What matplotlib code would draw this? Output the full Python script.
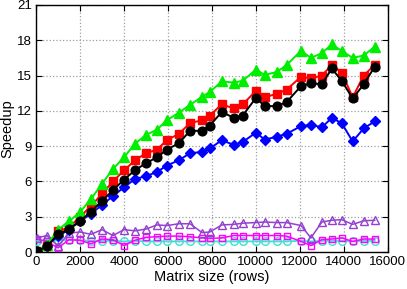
import matplotlib
matplotlib.use("Agg")
import matplotlib.pyplot as plt

sizes = [50, 500, 1000, 1500, 2000, 2500, 3000, 3500, 4000, 4500, 5000, 5500, 5950,
         6500, 7000, 7550, 7900, 8450, 9000, 9400, 10000, 10400, 10950, 11400,
         12050, 12500, 13000, 13450, 13900, 14400, 14900, 15400]

green = [0.1, 0.6, 1.9, 2.6, 3.4, 4.5, 5.8, 7.05, 8.05, 9.2, 9.95, 10.4, 11.2,
         11.85, 12.5, 13.2, 13.6, 14.5, 14.4, 14.55, 15.5, 15.05, 15.3, 15.9,
         17.1, 16.5, 16.9, 17.65, 17.1, 16.5, 16.7, 17.45]
red = [0.1, 0.55, 1.75, 2.1, 3.0, 3.9, 4.95, 6.0, 6.93, 7.8, 8.4, 8.7, 9.5,
       10.05, 10.95, 11.2, 11.6, 12.55, 12.2, 12.55, 13.7, 13.15, 13.45, 13.8,
       14.9, 14.75, 15.0, 15.9, 15.25, 13.15, 15.0, 15.9]
black = [0.05, 0.5, 1.5, 1.95, 2.65, 3.4, 4.35, 5.25, 6.15, 6.95, 7.55, 8.05, 8.7,
         9.25, 10.3, 10.3, 10.75, 11.9, 11.4, 11.6, 13.1, 12.4, 12.4, 12.75,
         14.1, 14.35, 14.25, 15.6, 14.55, 13.05, 14.25, 15.75]
blue = [0.05, 0.55, 1.35, 1.9, 2.6, 3.25, 4.0, 4.75, 5.5, 6.2, 6.45, 6.8, 7.35,
        7.8, 8.4, 8.5, 8.8, 9.5, 9.1, 9.35, 10.15, 9.55, 9.8, 10.05,
        10.7, 10.8, 10.6, 11.4, 10.95, 9.4, 10.5, 11.1]
purple = [1.2, 1.4, 0.5, 1.6, 1.7, 1.5, 1.9, 1.4, 1.9, 1.8, 1.95, 2.3, 2.25,
          2.4, 2.4, 1.65, 1.7, 2.3, 2.35, 2.45, 2.5, 2.55, 2.5, 2.5,
          2.25, 1.2, 2.55, 2.7, 2.75, 2.35, 2.65, 2.7]
magenta = [1.1, 0.9, 0.35, 1.05, 1.0, 0.7, 1.1, 1.05, 0.55, 1.0, 1.25, 1.3, 1.35,
           1.35, 1.3, 1.2, 1.15, 1.2, 1.4, 1.4, 1.4, 1.4, 1.4, 1.35,
           0.9, 0.55, 1.05, 1.1, 1.2, 0.9, 1.1, 1.1]
cyan = [0.95, 1.0, 1.0, 1.0, 1.0, 0.95, 0.95, 0.95, 0.9, 0.95, 0.9, 0.9, 0.9,
        0.9, 0.9, 0.9, 0.9, 0.9, 0.9, 0.9, 0.9, 0.9, 0.9, 0.9,
        0.95, 0.9, 0.95, 0.95, 0.95, 0.9, 0.95, 0.95]

xticks = [0, 2000, 4000, 6000, 8000, 10000, 12000, 14000, 16000]
yticks = [0, 3, 6, 9, 12, 15, 18, 21]

plt.rcParams['font.family'] = ['Liberation Sans', 'DejaVu Sans']
fig = plt.figure(figsize=(4.07, 2.89), dpi=100)
ax = fig.add_axes([0.0885, 0.128, 0.8645, 0.855])

ax.plot(sizes, cyan, color='#40e0d0', lw=1.3, marker='o', ms=5.5, mfc='none', mew=1.0, zorder=3)
ax.plot(sizes, magenta, color='#ff00ff', lw=1.1, marker='s', ms=5, mfc='none', mew=1.0, zorder=3)
ax.plot(sizes, purple, color='#9440d0', lw=1.1, marker='^', ms=6, mfc='none', mew=1.0, zorder=3)
ax.plot(sizes, blue, color='#0000ff', lw=1.4, marker='D', ms=4.8, zorder=4)
ax.plot(sizes, black, color='#000000', lw=1.4, marker='o', ms=6.3, zorder=5)
ax.plot(sizes, red, color='#ff0000', lw=1.4, marker='s', ms=5.8, zorder=4)
ax.plot(sizes, green, color='#00ee00', lw=1.4, marker='^', ms=7, zorder=4)

ax.set_xlim(0, 16000)
ax.set_ylim(0, 21)
ax.set_xticks(xticks)
ax.set_yticks(yticks)
ax.tick_params(direction='in', top=True, right=True, labelsize=9.5, length=4, pad=3)
ax.grid(True, color='#a0a0a0', linestyle=':', linewidth=0.9)
ax.set_axisbelow(True)
ax.set_xlabel('Matrix size (rows)', fontsize=10.5, labelpad=1)
ax.set_ylabel('Speedup', fontsize=10.5, labelpad=2)
for s in ax.spines.values():
    s.set_linewidth(1.0)

fig.savefig('out.png', dpi=100)
